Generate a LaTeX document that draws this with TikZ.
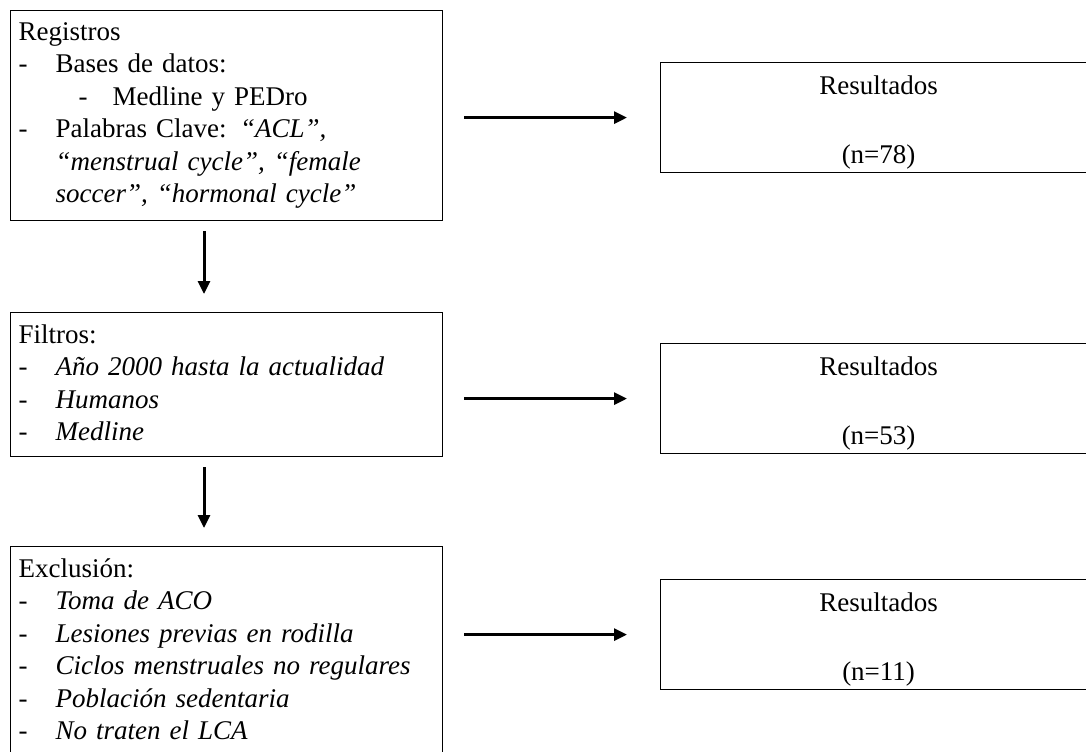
\documentclass[tikz,border=0pt]{standalone}
\usepackage{fontspec}
\setmainfont{Liberation Serif}
\usetikzlibrary{arrows.meta}

\newcommand{\itm}[1]{\makebox[18.5pt][l]{-}#1}
\newcommand{\subitm}[1]{\hspace*{30pt}\makebox[17pt][l]{-}#1}
\newcommand{\cont}[1]{\hspace*{18.5pt}#1}
\newcommand{\subir}{\rule{0pt}{14.5pt}}

\begin{document}
\begin{tikzpicture}[x=0.5pt,y=-0.5pt,
    font=\fontsize{13.5pt}{16.25pt}\selectfont,
    paso/.style={draw,line width=0.6pt,anchor=north west,inner xsep=4pt,inner ysep=6pt,text width=208pt,align=left},
    result/.style={draw,line width=0.6pt,anchor=north west,inner ysep=1pt,minimum width=218pt,minimum height=55pt,align=center},
    flecha/.style={line width=1.5pt,-{Triangle[length=6.5pt,width=6pt]}}]
    \useasboundingbox (0,0) rectangle (1086,751);
    \clip (0,0) rectangle (1086,751);

    % left column
    \node[paso] (p1) at (10,10) {Registros\\
        \itm{Bases de datos:}\\
        \subitm{Medline y PEDro}\\
        \itm{Palabras Clave: \textit{“ACL”,}}\\
        \cont{\textit{“menstrual cycle”, “female}}\\
        \cont{\textit{soccer”, “hormonal cycle”}}};
    \node[paso] (p2) at (10,312) {Filtros:\\
        \itm{\textit{Año 2000 hasta la actualidad}}\\
        \itm{\textit{Humanos}}\\
        \itm{\textit{Medline}}\rule[-2pt]{0pt}{0pt}};
    \node[paso] (p3) at (10,546) {Exclusión:\\
        \itm{\textit{Toma de ACO}}\\
        \itm{\textit{Lesiones previas en rodilla}}\\
        \itm{\textit{Ciclos menstruales no regulares}}\\
        \itm{\textit{Población sedentaria}}\\
        \itm{\textit{No traten el LCA}}};

    % right column
    \node[result] (r1) at (660,62) {\subir Resultados\\[18pt](n=78)};
    \node[result] (r2) at (660,343) {\subir Resultados\\[18pt](n=53)};
    \node[result] (r3) at (660,579) {\subir Resultados\\[18pt](n=11)};

    \coordinate (vx) at (204,0);
    \draw[flecha,shorten <=5pt,shorten >=9pt] (p1.south -| vx) -- (p2.north -| vx);
    \draw[flecha,shorten <=5pt,shorten >=9pt] (p2.south -| vx) -- (p3.north -| vx);

    \draw[flecha,shorten <=10.5pt,shorten >=16.5pt] (p1.east |- r1.west) -- (r1.west);
    \draw[flecha,shorten <=10.5pt,shorten >=16.5pt] (p2.east |- r2.west) -- (r2.west);
    \draw[flecha,shorten <=10.5pt,shorten >=16.5pt] (p3.east |- r3.west) -- (r3.west);
\end{tikzpicture}
\end{document}
